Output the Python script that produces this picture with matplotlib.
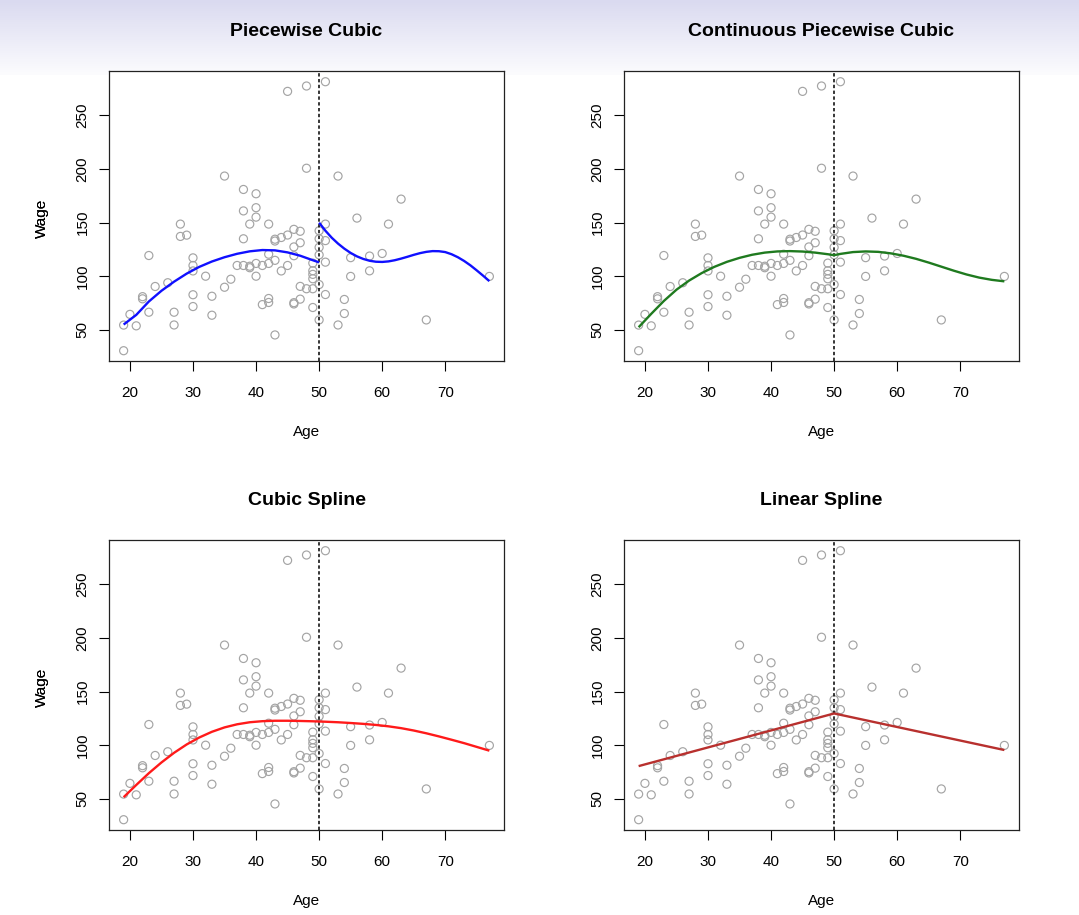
import numpy as np
import matplotlib
matplotlib.use("Agg")
import matplotlib.pyplot as plt

plt.rcParams['font.family'] = ['Liberation Sans', 'DejaVu Sans']

# ---------------- data ----------------
age = [19, 19, 20, 21, 22, 22, 23, 23, 24, 26, 27, 27, 28, 28, 29,
       30, 30, 30, 30, 30, 32, 33, 33, 35, 35, 36, 37,
       38, 38, 38, 38, 39, 39, 39, 40, 40, 40, 40, 40, 41, 41,
       42, 42, 42, 42, 42, 43, 43, 43, 43, 44, 44, 45, 45, 45,
       46, 46, 46, 46, 46, 47, 47, 47, 47, 48, 48, 48,
       49, 49, 49, 49, 49, 49, 50, 50, 50, 50, 50, 50,
       51, 51, 51, 51, 51, 53, 53, 54, 54, 55, 55, 56, 58, 58, 60, 61, 63, 67, 77]
wage = [54.5, 30.6, 64.5, 53.8, 81, 79, 119.4, 66.5, 90.5, 94, 66.5, 54.6, 148.7, 137.2, 138.4,
        117.2, 110.1, 105, 82.8, 71.8, 100.1, 81.4, 63.7, 193.5, 89.8, 97.3, 110.1,
        181, 161, 135, 110.1, 148.7, 109.4, 108, 177, 164, 155.2, 112, 100.1, 110.1, 73.6,
        148.7, 120.6, 112, 79.3, 75.6, 134.6, 132.9, 114.9, 45.3, 136.2, 105, 272.5, 138.5, 110.1,
        143.8, 127.4, 119.2, 74.2, 75.4, 142, 131.3, 90.6, 78.7, 277.5, 200.8, 88.4,
        112.3, 105.2, 101.8, 97.7, 88.4, 70.9, 142.5, 135, 127, 120, 92.3, 59.3,
        281.5, 148.7, 133.3, 113.2, 83, 193.5, 54.6, 78.4, 65.3, 117.4, 99.9, 154.3,
        118.9, 105.1, 121.3, 148.7, 172, 59.3, 99.9]

knot = 50

titles = ["Piecewise Cubic", "Continuous Piecewise Cubic", "Cubic Spline", "Linear Spline"]
x_ticks = [20, 30, 40, 50, 60, 70]
y_ticks = [50, 100, 150, 200, 250]

# fitted curves, values
pc_left_age = [19, 21, 23, 25, 27, 29, 31, 33, 35, 37, 39, 41, 43, 45, 47, 49, 50]
pc_left_wage = [55, 64, 76.5, 86.5, 95, 102.5, 108.8, 113.8, 117.8, 121, 123.3, 124.5,
                124.2, 122.3, 119.2, 115, 113]
pc_right_age = [50, 51, 52, 53, 54, 55, 56, 57, 58, 59, 60, 61, 62, 63, 64, 65, 66, 67,
                68, 69, 70, 71, 72, 73, 74, 75, 76, 77]
pc_right_wage = [150, 142.5, 136, 130.5, 125.8, 121.8, 118.6, 116.2, 114.5, 113.6, 113.4,
                 113.9, 115, 116.5, 118.2, 120, 121.6, 122.8, 123.5, 123.4, 122.6, 120.6,
                 117.8, 114.3, 110.2, 105.5, 100.6, 95.5]

cont_age = [19, 21, 23, 25, 27, 29, 31, 33, 35, 37, 39, 41, 43, 45, 47, 49, 50,
            51, 53, 55, 57, 59, 61, 63, 65, 67, 69, 71, 73, 75, 77]
cont_wage = [52.5, 65, 77, 87.5, 96, 103, 108.8, 113.5, 117.2, 120.1, 122.1, 123.2, 123.5,
             123.1, 122.1, 120.6, 119.7, 120.9, 122.6, 123.2, 122.8, 121.4, 119.2, 116.3,
             112.8, 109, 105.2, 101.7, 98.8, 96.7, 95.3]

cs_age = [19, 21, 23, 25, 27, 29, 31, 33, 35, 37, 39, 41, 43, 45, 47, 49, 51, 53, 55,
          57, 59, 61, 63, 65, 67, 69, 71, 73, 75, 77]
cs_wage = [51.6, 63, 74, 84, 93, 100.8, 107.3, 112.6, 116.7, 119.6, 121.5, 122.5, 122.9,
           122.9, 122.7, 122.4, 122, 121.5, 120.8, 120, 119, 117.7, 116, 113.8, 111.2,
           108.3, 105.2, 102, 98.5, 95]

lin_age = [19, 50, 77]
lin_wage = [80.6, 129.7, 95.6]

# ---------------- figure ----------------
W, H = 1079, 915
fig = plt.figure(figsize=(W / 100, H / 100), dpi=100)
fig.patch.set_facecolor("white")

# header gradient band
bg = fig.add_axes([0, 1 - 75 / H, 1, 75 / H], zorder=-10)
top = np.array([218, 218, 240]) / 255.0
bot = np.array([252, 252, 254]) / 255.0
t = np.linspace(0, 1, 100)[:, None]
grad = top[None, :] * (1 - t) + bot[None, :] * t
bg.imshow(grad[:, None, :].repeat(2, axis=1), aspect="auto", extent=[0, 1, 0, 1])
bg.set_axis_off()

rects = [(109, 71, 504, 361), (624, 71, 1019, 361),
         (109, 540, 504, 830), (624, 540, 1019, 830)]

curves = [
    [(pc_left_age, pc_left_wage), (pc_right_age, pc_right_wage)],
    [(cont_age, cont_wage)],
    [(cs_age, cs_wage)],
    [(lin_age, lin_wage)],
]
colors = ["#1010ff", "#1f7a1f", "#ff1a1a", "#b8302e"]

for i, (l, tp, r, b) in enumerate(rects):
    ax = fig.add_axes([l / W, 1 - b / H, (r - l) / W, (b - tp) / H])
    ax.scatter(age, wage, s=5.8 ** 2, facecolors="none", edgecolors="#a4a4a4",
               linewidths=0.85, zorder=2)
    ax.axvline(knot, color="black", lw=1.1, linestyle=(0, (2.2, 1.6)), zorder=3)
    for xs, ys in curves[i]:
        ax.plot(xs, ys, color=colors[i], lw=1.7, zorder=4, solid_capstyle="butt")
    ax.set_xlim(16.68, 79.32)
    ax.set_ylim(21.0, 291.5)
    ax.set_xticks(x_ticks)
    ax.set_yticks(y_ticks)
    ax.tick_params(direction="out", length=7.2, width=0.8, labelsize=11,
                   colors="black")
    ax.tick_params(axis="x", pad=10.8)
    ax.tick_params(axis="y", pad=6.7, labelrotation=90)
    for lab in ax.get_yticklabels():
        lab.set_verticalalignment("center")
    for sp in ax.spines.values():
        sp.set_linewidth(0.9)
        sp.set_color("#222222")
    cx = (l + r) / 2
    fig.text(cx / W, 1 - (tp - 39) / H, titles[i], ha="center", va="center",
             fontsize=14, fontweight="bold")
    fig.text(cx / W, 1 - (b + 71) / H, "Age", ha="center", va="center", fontsize=11)
    fig.text(42 / W, 1 - ((tp + b) / 2 + 2) / H, "Wage", ha="center", va="center",
             fontsize=11, rotation=90)

fig.savefig("out.png", dpi=100)
